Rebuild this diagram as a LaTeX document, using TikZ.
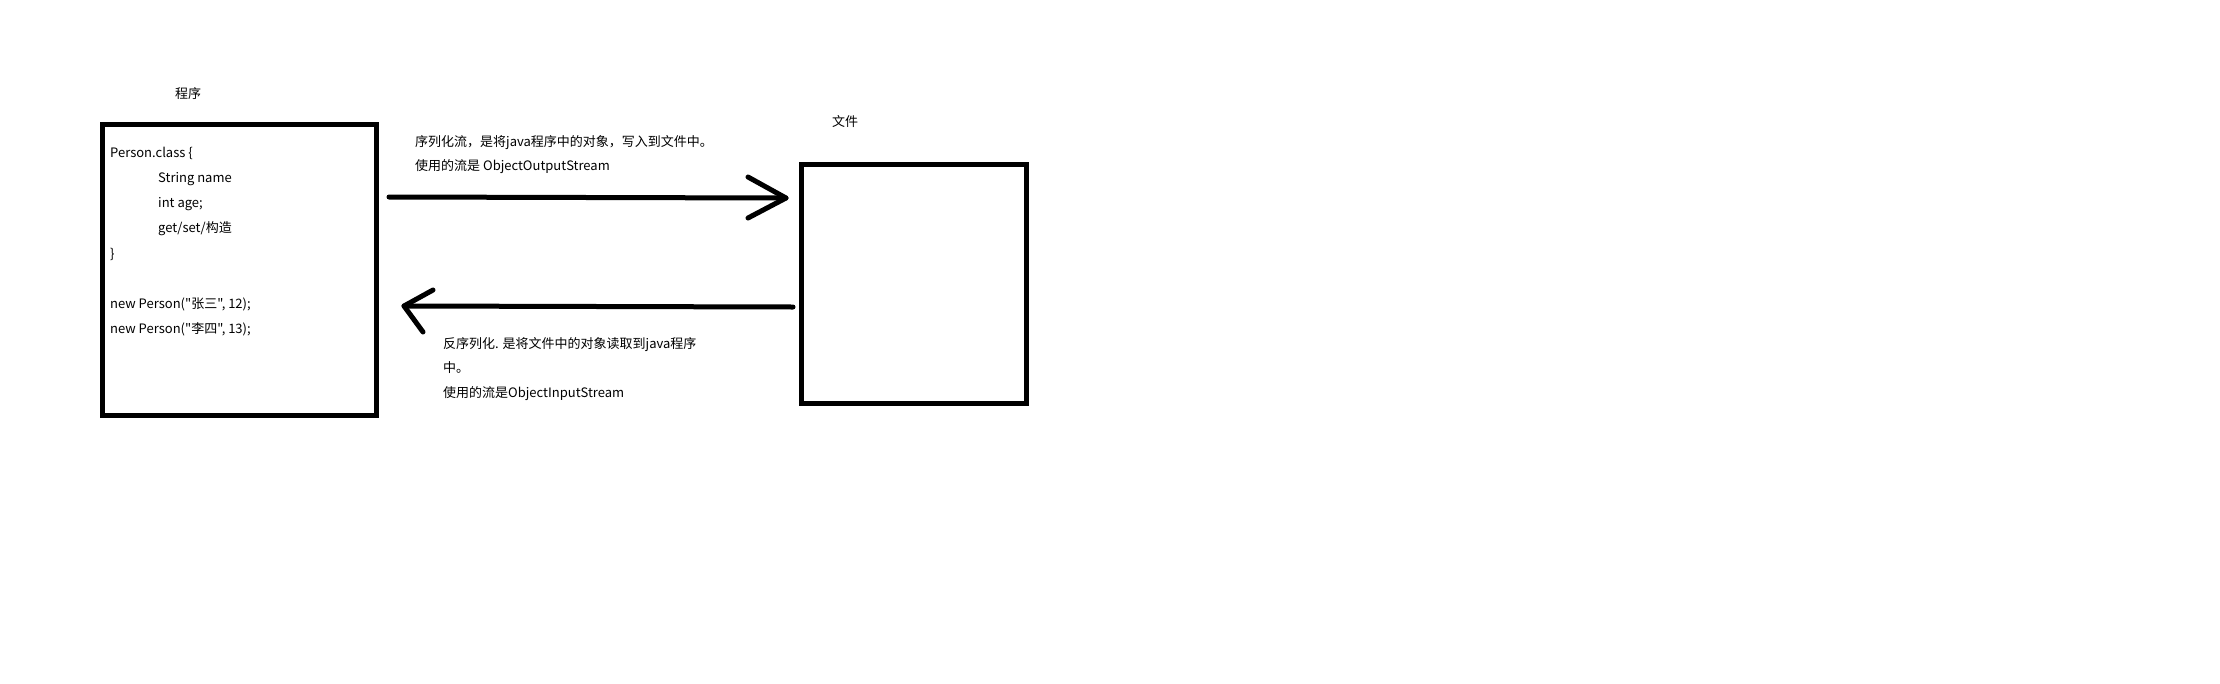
\documentclass[tikz,border=0pt]{standalone}
\usepackage{fontspec}
\setmainfont{Noto Sans CJK SC}[Ligatures=TeXOff]
\usepackage{tikz}

\begin{document}
\begin{tikzpicture}[x=1pt, y=-1pt,
		box_style/.style={rectangle,draw=black,line width=5pt,inner sep=0pt,outer sep=0pt},
		text_style/.style={anchor=base west,inner sep=0pt,font=\fontsize{13pt}{15pt}\selectfont},
		edge_style/.style={draw=black,line width=5pt,line cap=round,line join=round}]
		
		\useasboundingbox[fill=white] (0,0) rectangle (2220,683);
		
		\node[box_style,minimum width=274pt,minimum height=291pt] (prog) at (239.5,270) {};
		\node[box_style,minimum width=225pt,minimum height=239pt] (file) at (914,284) {};
		
		\node[text_style] (t0) at (175,98) {程序};
		\node[text_style] (t1) at (832,126) {文件};
		
		\node[text_style] (p0) at (110,157) {Person.class \{};
		\node[text_style] (p1) at (158,182) {String name};
		\node[text_style] (p2) at (158,207) {int age;};
		\node[text_style] (p3) at (158,232) {get/set/构造};
		\node[text_style] (p4) at (110,258) {\}};
		\node[text_style] (p5) at (110,308) {new Person("张三", 12);};
		\node[text_style] (p6) at (110,333) {new Person("李四", 13);};
		
		\node[text_style] (s0) at (415,146) {序列化流，是将java程序中的对象，写入到文件中。};
		\node[text_style] (s1) at (415,170) {使用的流是 ObjectOutputStream};
		
		\node[text_style] (d0) at (443,348) {反序列化. 是将文件中的对象读取到java程序};
		\node[text_style] (d1) at (443,372) {中。};
		\node[text_style] (d2) at (443,397) {使用的流是ObjectInputStream};
		
		\coordinate (w0) at (389,197);
		\coordinate (w1) at (786,198);
		\coordinate (w2) at (748,177);
		\coordinate (w3) at (748,218);
		\coordinate (r0) at (793,307);
		\coordinate (r1) at (404,306);
		\coordinate (r2) at (433,290);
		\coordinate (r3) at (423,332);
		
		\draw[edge_style]  (w0) -- (w1);
		\draw[edge_style]  (w2) -- (w1) -- (w3);
		\draw[edge_style]  (r0) -- (r1);
		\draw[edge_style]  (r2) -- (r1) -- (r3);
		\end{tikzpicture}
\end{document}
